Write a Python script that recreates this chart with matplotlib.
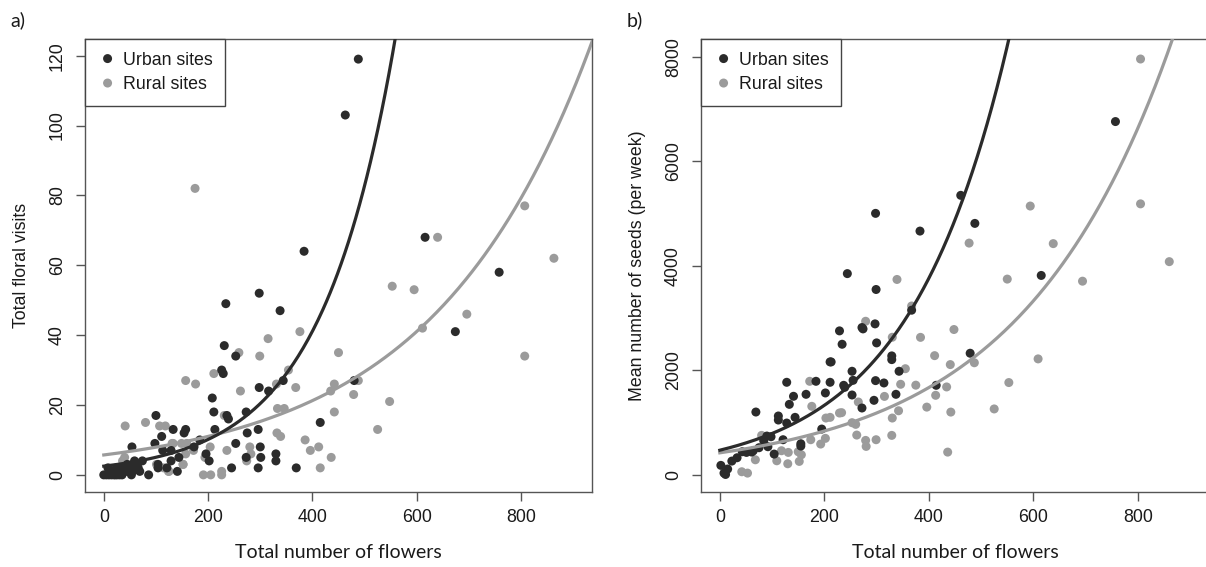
import numpy as np
import matplotlib
matplotlib.use("Agg")
import matplotlib.pyplot as plt

# panel a: total floral visits vs total number of flowers
visits_urban_x = [0, 5, 10, 15, 20, 25, 30, 35, 53, 86, 8, 14, 24, 28, 37, 43, 50, 55, 59, 63,
                  69, 74, 66, 45, 54, 98, 100, 104, 104, 111, 113, 121, 129, 129, 133, 141, 144,
                  154, 157, 173, 184, 196, 202, 208, 211, 213, 226, 229, 231, 234, 236, 239, 245,
                  253, 253, 273, 273, 275, 296, 296, 298, 298, 300, 301, 316, 330, 330, 338, 344,
                  369, 384, 415, 463, 480, 488, 616, 674, 758]
visits_urban_y = [0, 0, 0, 0, 0, 0, 0, 0, 0, 0, 2, 1, 2, 1, 2, 1, 2, 1, 4, 3,
                  1, 4, 2, 3, 8, 9, 17, 3, 2, 11, 7, 2, 7, 4, 13, 1, 5,
                  12, 13, 8, 10, 6, 4, 22, 18, 13, 30, 29, 37, 49, 17, 16, 2,
                  34, 9, 18, 5, 12, 13, 2, 52, 25, 8, 5, 24, 6, 4, 47, 27,
                  2, 64, 15, 103, 27, 119, 68, 41, 58]
visits_rural_x = [175, 553, 595, 640, 807, 863, 696, 611, 807, 376, 315, 259, 299, 450, 211, 157,
                  176, 354, 331, 368, 262, 442, 435, 488, 479, 548, 333, 346, 442, 525, 231, 332,
                  339, 386, 412, 396, 436, 415, 280, 282, 274, 236, 204, 172, 191, 205, 226, 226,
                  194, 157, 152, 149, 159, 131, 124, 101, 41, 80, 107, 118, 40, 36, 60, 133, 152,
                  115, 22, 125]
visits_rural_y = [82, 54, 53, 68, 77, 62, 46, 42, 34, 41, 39, 35, 34, 35, 29, 27,
                  26, 30, 26, 25, 24, 26, 24, 27, 23, 21, 19, 19, 18, 13, 17, 12,
                  11, 10, 8, 7, 5, 2, 8, 6, 4, 7, 8, 7, 0, 0, 1, 0,
                  5, 6, 3, 9, 9, 9, 1, 3, 14, 15, 14, 14, 5, 4, 3, 9, 3,
                  2, 0, 1]

# panel b: mean number of seeds vs total number of flowers
seeds_urban_x = [2, 8, 11, 15, 23, 33, 43, 51, 61, 64, 75, 84, 90, 92, 98, 69, 104, 112, 112, 121,
                 128, 128, 133, 141, 144, 155, 155, 165, 184, 195, 202, 211, 213, 211, 229, 234,
                 237, 239, 244, 253, 253, 255, 272, 274, 272, 295, 297, 298, 298, 299, 300, 314,
                 329, 329, 337, 343, 367, 383, 414, 461, 479, 488, 615, 757]
seeds_urban_y = [180, 32, 6, 110, 262, 326, 441, 428, 435, 460, 518, 652, 741, 537, 728, 1201, 396,
                 1125, 1048, 671, 990, 1770, 1348, 1502, 1099, 594, 550, 1540, 1789, 875, 1566,
                 2160, 2160, 1770, 2754, 2498, 1712, 1674, 3850, 1981, 1527, 1808, 2818, 2792,
                 1278, 1425, 2888, 5003, 1802, 3546, 2524, 1757, 2275, 2204, 1540, 1981, 3150,
                 4664, 1712, 5348, 2326, 4811, 3815, 6760]
seeds_rural_x = [42, 53, 68, 80, 109, 118, 130, 131, 150, 152, 156, 172, 174, 176, 193, 202, 203,
                 211, 229, 233, 253, 260, 262, 265, 279, 280, 279, 299, 315, 329, 330, 330, 339,
                 342, 346, 355, 367, 375, 384, 396, 411, 413, 434, 436, 441, 442, 448, 477, 487,
                 525, 550, 553, 594, 609, 638, 694, 805, 805, 860]
seeds_rural_y = [58, 32, 287, 754, 268, 460, 211, 428, 441, 256, 383, 1789, 671, 1310, 588, 697,
                 1086, 1099, 1182, 1189, 997, 965, 760, 1393, 658, 543, 2938, 671, 1500, 754, 1086,
                 2632, 3738, 1225, 1732, 2030, 3230, 1715, 2630, 1295, 2280, 1521, 1681, 434,
                 2109, 1200, 2780, 4434, 2144, 1260, 3745, 1765, 5143, 2218, 4424, 3705, 7957,
                 5185, 4079]

# fitted exponential curves y = a * exp(b * x)
visits_fit = {"urban": (2.5, 0.0070), "rural": (5.7, 0.00329)}
seeds_fit = {"urban": (470, 0.0052), "rural": (420, 0.00345)}

DARK = "#2b2b2b"
GREY = "#9b9b9b"
AXCOL = "#555555"
TXT = "#1a1a1a"
TICKFONT = "Liberation Sans"
LABFONT = "Lato"

fig = plt.figure(figsize=(12.06, 5.67), dpi=100)
W, H = 1206, 567
ax_a = fig.add_axes([85 / W, 1 - 491.5 / H, 507 / W, 452.5 / H])
ax_b = fig.add_axes([701 / W, 1 - 491.5 / H, 508 / W, 452.5 / H])


def draw_panel(ax, ux, uy, rx, ry, fit, ylim, yticks, ylabel):
    ax.scatter(rx, ry, s=42, color=GREY, edgecolors="none", zorder=2)
    ax.scatter(ux, uy, s=42, color=DARK, edgecolors="none", zorder=3)
    xs = np.linspace(0, 936, 400)
    a, b = fit["rural"]
    ax.plot(xs, a * np.exp(b * xs), color=GREY, lw=2.3, zorder=4)
    a, b = fit["urban"]
    ax.plot(xs, a * np.exp(b * xs), color=DARK, lw=2.3, zorder=5)

    ax.set_xlim(-36, 936)
    ax.set_ylim(*ylim)
    ax.set_xticks([0, 200, 400, 600, 800])
    ax.set_yticks(yticks)
    for s in ax.spines.values():
        s.set_color(AXCOL)
        s.set_linewidth(1.0)
    ax.tick_params(length=6.7, width=1.0, color=AXCOL, labelcolor=TXT, labelsize=12.8)
    ax.tick_params(axis="x", pad=6)
    ax.tick_params(axis="y", pad=7)
    for lab in ax.get_xticklabels():
        lab.set_fontfamily(TICKFONT)
    for lab in ax.get_yticklabels():
        lab.set_fontfamily(TICKFONT)
        lab.set_rotation(90)
        lab.set_va("center")

    ax.set_xlabel("Total number of flowers", fontsize=14, family=LABFONT, color=TXT, labelpad=13)
    ax.set_ylabel(ylabel, fontsize=12.8, family=TICKFONT, color=TXT, labelpad=14)

    h1 = ax.scatter([], [], s=42, color=DARK, edgecolors="none")
    h2 = ax.scatter([], [], s=42, color=GREY, edgecolors="none")
    leg = ax.legend([h1, h2], ["Urban sites", "Rural sites"], loc="upper left",
                    bbox_to_anchor=(0, 1), borderaxespad=0, fancybox=False,
                    framealpha=1, edgecolor="#444444", prop={"family": TICKFONT, "size": 12.8},
                    handletextpad=0.3, handlelength=1.1, labelspacing=0.42,
                    borderpad=0.72, scatteryoffsets=[0.5])
    leg.get_frame().set_linewidth(1.0)
    for t in leg.get_texts():
        t.set_color(TXT)


draw_panel(ax_a, visits_urban_x, visits_urban_y, visits_rural_x, visits_rural_y,
           visits_fit, (-4.76, 124.76), [0, 20, 40, 60, 80, 100, 120], "Total floral visits")
draw_panel(ax_b, seeds_urban_x, seeds_urban_y, seeds_rural_x, seeds_rural_y,
           seeds_fit, (-320, 8340), [0, 2000, 4000, 6000, 8000], "Mean number of seeds (per week)")

fig.text(10 / W, 1 - 20 / H, "a)", fontsize=14, family=LABFONT, color=TXT, va="center", ha="left")
fig.text(627 / W, 1 - 20 / H, "b)", fontsize=14, family=LABFONT, color=TXT, va="center", ha="left")

fig.savefig("out.png", dpi=100)
